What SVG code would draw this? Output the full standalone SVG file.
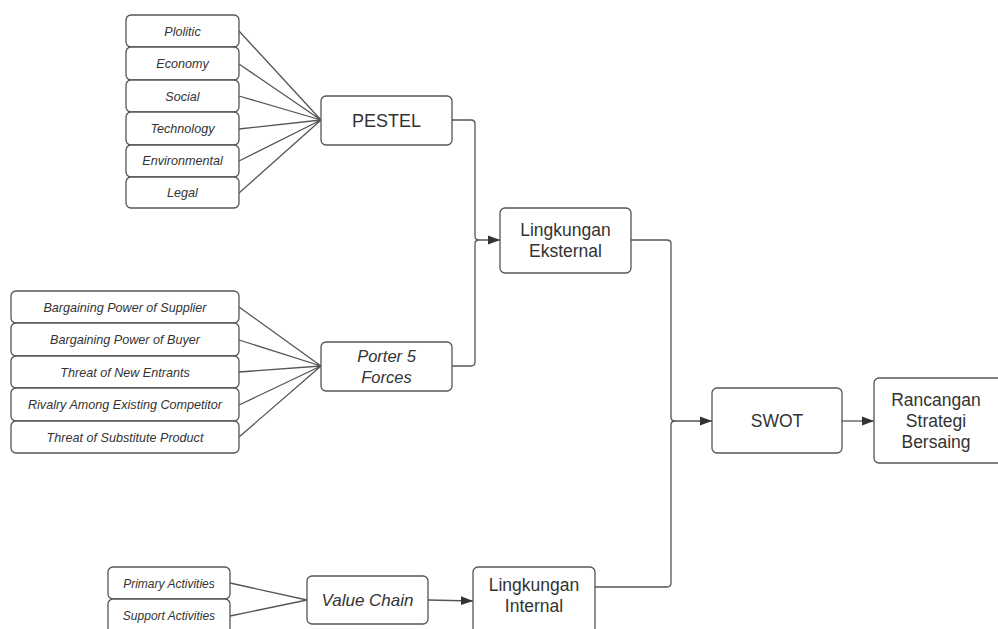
<svg xmlns="http://www.w3.org/2000/svg" width="998" height="629" viewBox="0 0 998 629">
<defs>
<marker id="arr" viewBox="0 0 12 10" refX="12" refY="5" markerWidth="12" markerHeight="10" markerUnits="userSpaceOnUse" orient="auto">
<path d="M0,0.6 L12,5 L0,9.4 z" fill="#333"/>
</marker>
<style>
.box{fill:#fff;stroke:#555;stroke-width:1.3}
.ln{fill:none;stroke:#555;stroke-width:1.3}
.s{font-family:"Liberation Sans",Arial,sans-serif;font-size:12.6px;font-style:italic;fill:#333;text-anchor:middle}
.m{font-family:"Liberation Sans",Arial,sans-serif;font-size:17.5px;fill:#333;text-anchor:middle}
.mi{font-family:"Liberation Sans",Arial,sans-serif;font-size:17px;font-style:italic;fill:#333;text-anchor:middle}
</style>
</defs>
<rect width="998" height="629" fill="#fff"/>
<g id="connectors">
<path class="ln" d="M239,31 L321,120 M239,64 L321,120 M239,96 L321,120 M239,129 L321,120 M239,161 L321,120 M239,193 L321,120"/>
<path class="ln" d="M239,307 L321,366 M239,340 L321,366 M239,372 L321,366 M239,405 L321,366 M239,437 L321,366"/>
<path class="ln" d="M230,583 L307,600 M230,616 L307,600"/>
<path class="ln" d="M452,120 L471,120 Q475,120 475,124 L475,236 Q475,240 479,240 L500,240" marker-end="url(#arr)"/>
<path class="ln" d="M452,366 L471,366 Q475,366 475,362 L475,244 Q475,240 479,240"/>
<path class="ln" d="M428,600 L473,601" marker-end="url(#arr)"/>
<path class="ln" d="M631,240 L667,240 Q671,240 671,244 L671,417 Q671,421 675,421 L712,421" marker-end="url(#arr)"/>
<path class="ln" d="M595,587 L667,587 Q671,587 671,583 L671,425 Q671,421 675,421"/>
<path class="ln" d="M842,421 L874,421" marker-end="url(#arr)"/>
</g>
<g id="plolitic"><rect class="box" x="126" y="15" width="113" height="32" rx="5"/><text class="s" x="182.5" y="35.5">Plolitic</text></g>
<g id="economy"><rect class="box" x="126" y="47" width="113" height="33" rx="5"/><text class="s" x="182.5" y="68">Economy</text></g>
<g id="social"><rect class="box" x="126" y="80" width="113" height="32" rx="5"/><text class="s" x="182.5" y="100.5">Social</text></g>
<g id="technology"><rect class="box" x="126" y="112" width="113" height="33" rx="5"/><text class="s" x="182.5" y="133">Technology</text></g>
<g id="environmental"><rect class="box" x="126" y="145" width="113" height="32" rx="5"/><text class="s" x="182.5" y="165">Environmental</text></g>
<g id="legal"><rect class="box" x="126" y="177" width="113" height="31" rx="5"/><text class="s" x="182.5" y="197">Legal</text></g>
<g id="pestel"><rect class="box" x="321" y="96" width="131" height="49" rx="5"/><text class="m" x="386.5" y="127" style="font-size:18px">PESTEL</text></g>
<g id="supplier"><rect class="box" x="11" y="291" width="228" height="32" rx="5"/><text class="s" x="125" y="311.5">Bargaining Power of Supplier</text></g>
<g id="buyer"><rect class="box" x="11" y="323" width="228" height="33" rx="5"/><text class="s" x="125" y="344">Bargaining Power of Buyer</text></g>
<g id="newentrants"><rect class="box" x="11" y="356" width="228" height="32" rx="5"/><text class="s" x="125" y="376.5">Threat of New Entrants</text></g>
<g id="rivalry"><rect class="box" x="11" y="388" width="228" height="33" rx="5"/><text class="s" x="125" y="409">Rivalry Among Existing Competitor</text></g>
<g id="substitute"><rect class="box" x="11" y="421" width="228" height="32" rx="5"/><text class="s" x="125" y="441.5">Threat of Substitute Product</text></g>
<g id="porter"><rect class="box" x="321" y="342" width="131" height="49" rx="5"/><text class="mi" x="386.5" y="362" style="font-size:16.5px">Porter 5</text><text class="mi" x="386.5" y="383" style="font-size:16.5px">Forces</text></g>
<g id="primary"><rect class="box" x="108" y="567" width="122" height="32" rx="5"/><text class="s" x="169" y="587.5" style="font-size:12px">Primary Activities</text></g>
<g id="support"><rect class="box" x="108" y="599" width="122" height="34" rx="5"/><text class="s" x="169" y="620" style="font-size:12px">Support Activities</text></g>
<g id="valuechain"><rect class="box" x="307" y="576" width="121" height="48" rx="5"/><text class="mi" x="367.5" y="606">Value Chain</text></g>
<g id="eksternal"><rect class="box" x="500" y="208" width="131" height="65" rx="5"/><text class="m" x="565.5" y="236">Lingkungan</text><text class="m" x="565.5" y="257">Eksternal</text></g>
<g id="internal"><rect class="box" x="473" y="567" width="122" height="66" rx="5"/><text class="m" x="534" y="591">Lingkungan</text><text class="m" x="534" y="612">Internal</text></g>
<g id="swot"><rect class="box" x="712" y="388" width="130" height="65" rx="5"/><text class="m" x="777" y="427">SWOT</text></g>
<g id="rancangan"><rect class="box" x="874" y="378" width="130" height="85" rx="5"/><text class="m" x="936" y="406">Rancangan</text><text class="m" x="936" y="427">Strategi</text><text class="m" x="936" y="448">Bersaing</text></g>
</svg>
